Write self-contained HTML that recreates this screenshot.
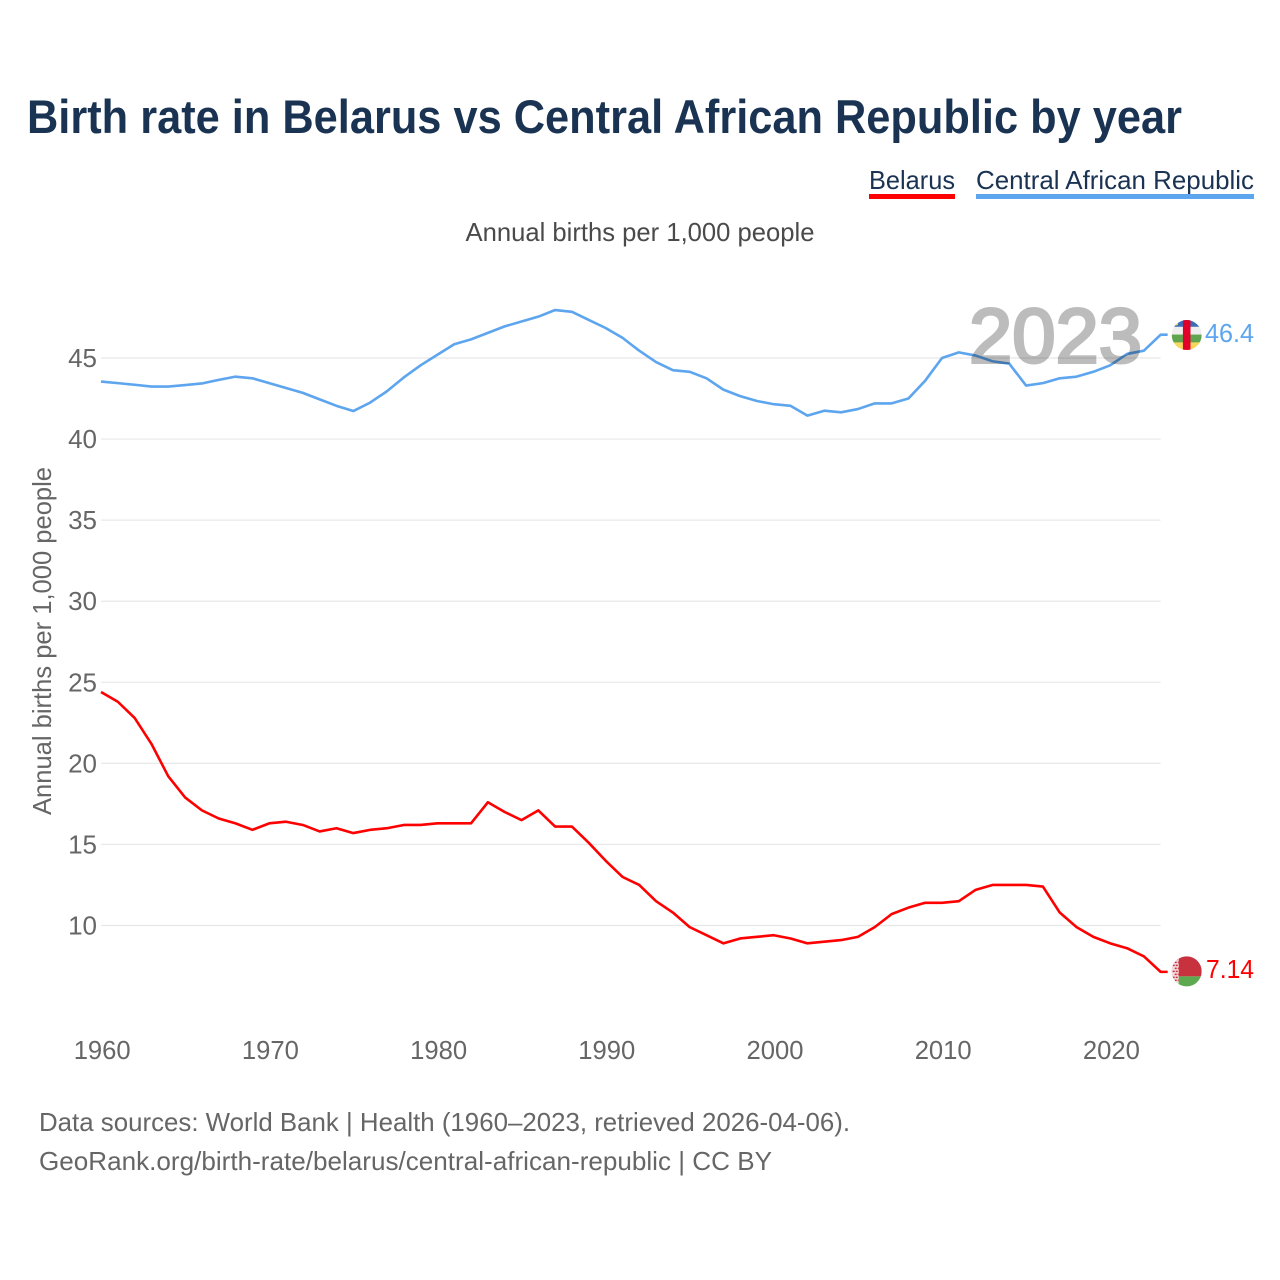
<!DOCTYPE html>
<html lang="en">
<head>
<meta charset="utf-8">
<title>Birth rate in Belarus vs Central African Republic by year</title>
<style>
html,body{margin:0;padding:0;background:#fff;}
svg{display:block;}
text{font-family:"Liberation Sans",sans-serif;}
</style>
</head>
<body>
<svg id="chart" width="1280" height="1280" viewBox="0 0 1280 1280" xmlns="http://www.w3.org/2000/svg">
  <defs>
    <clipPath id="flag-clip"><circle cx="0" cy="0" r="15"></circle></clipPath>
  </defs>
  <rect x="0" y="0" width="1280" height="1280" fill="#ffffff"></rect>
  <text x="27" y="133" font-size="47" font-weight="700" fill="#1a3353" textLength="1155" lengthAdjust="spacingAndGlyphs">Birth rate in Belarus vs Central African Republic by year</text>

  <g>
    <text x="869" y="189" font-size="26" fill="#1a3353" textLength="86" lengthAdjust="spacingAndGlyphs">Belarus</text>
    <rect x="869" y="194" width="86" height="5" fill="#ff0000"></rect>
  </g>
  <g>
    <text x="976" y="189" font-size="26" fill="#1a3353" textLength="278" lengthAdjust="spacingAndGlyphs">Central African Republic</text>
    <rect x="976" y="194" width="278" height="5" fill="#5da5ee"></rect>
  </g>

  <text x="640" y="241" font-size="26" fill="#4a4a4a" text-anchor="middle" textLength="349" lengthAdjust="spacingAndGlyphs">Annual births per 1,000 people</text>
  <text x="51" y="641" font-size="26" fill="#666666" text-anchor="middle" textLength="348" lengthAdjust="spacingAndGlyphs" transform="rotate(-90 51 641)">Annual births per 1,000 people</text>

  <g id="grid"></g>
  <g id="y-ticks"></g>
  <g id="x-ticks"></g>
  <g id="series"></g>

  <g id="flag-caf">
    <g clip-path="url(#flag-clip)">
      <rect x="-15" y="-16" width="30" height="8" fill="#3a6db5"></rect>
      <rect x="-15" y="-8.3" width="30" height="8" fill="#eeeeee"></rect>
      <rect x="-15" y="-0.5" width="30" height="8" fill="#5fa54f"></rect>
      <rect x="-15" y="7.3" width="30" height="9" fill="#f7d85c"></rect>
      <rect x="-3.8" y="-16" width="7.6" height="32" fill="#e0002a"></rect>
      <circle cx="-10" cy="-11" r="1.3" fill="#f7d85c"></circle>
    </g>
  </g>
  <g id="flag-blr">
    <g clip-path="url(#flag-clip)">
      <rect x="-15" y="-16" width="30" height="21" fill="#c8313e"></rect>
      <rect x="-15" y="5" width="30" height="11" fill="#5ea84f"></rect>
      <rect x="-15" y="-16" width="7" height="32" fill="#f3dede"></rect>
      <path d="M-14 -12h5M-12 -9h4M-14 -6h5M-12 -3h4M-14 0h5M-12 3h4M-14 6h5M-12 9h4" stroke="#c8313e" stroke-width="1.4" stroke-dasharray="2 1" fill="none"></path>
    </g>
  </g>

  <text id="label-caf" x="1254" font-size="26" fill="#5da5ee" text-anchor="end" textLength="49" lengthAdjust="spacingAndGlyphs"></text>
  <text id="label-blr" x="1254" font-size="26" fill="#ff0000" text-anchor="end" textLength="48" lengthAdjust="spacingAndGlyphs"></text>

  <text x="969" y="362.5" font-size="77" font-weight="400" fill="#000000" stroke="#000000" stroke-width="3" opacity="0.26" textLength="173" lengthAdjust="spacingAndGlyphs">2023</text>

  <text x="39" y="1131" font-size="26" fill="#666666" textLength="811" lengthAdjust="spacingAndGlyphs">Data sources: World Bank | Health (1960–2023, retrieved 2026-04-06).</text>
  <text x="39" y="1170" font-size="26" fill="#666666" textLength="733" lengthAdjust="spacingAndGlyphs">GeoRank.org/birth-rate/belarus/central-african-republic | CC BY</text>
</svg>

<script>
var years = [1960,1961,1962,1963,1964,1965,1966,1967,1968,1969,1970,1971,1972,1973,1974,1975,1976,1977,1978,1979,1980,1981,1982,1983,1984,1985,1986,1987,1988,1989,1990,1991,1992,1993,1994,1995,1996,1997,1998,1999,2000,2001,2002,2003,2004,2005,2006,2007,2008,2009,2010,2011,2012,2013,2014,2015,2016,2017,2018,2019,2020,2021,2022,2023];
var belarusValues = [24.4,23.8,22.8,21.2,19.2,17.9,17.1,16.6,16.3,15.9,16.3,16.4,16.2,15.8,16.0,15.7,15.9,16.0,16.2,16.2,16.3,16.3,16.3,17.6,17.0,16.5,17.1,16.1,16.1,15.1,14.0,13.0,12.5,11.5,10.8,9.9,9.4,8.9,9.2,9.3,9.4,9.2,8.9,9.0,9.1,9.3,9.9,10.7,11.1,11.4,11.4,11.5,12.2,12.5,12.5,12.5,12.4,10.8,9.9,9.3,8.9,8.6,8.1,7.14];
var carValues = [43.55,43.45,43.35,43.24,43.24,43.33,43.43,43.65,43.85,43.75,43.45,43.15,42.85,42.45,42.05,41.73,42.25,42.95,43.8,44.55,45.2,45.85,46.15,46.55,46.95,47.25,47.55,47.96,47.85,47.35,46.85,46.25,45.45,44.75,44.25,44.15,43.75,43.05,42.65,42.35,42.15,42.05,41.45,41.75,41.65,41.85,42.2,42.2,42.5,43.6,45.0,45.35,45.15,44.8,44.65,43.3,43.45,43.75,43.85,44.15,44.55,45.25,45.45,46.44];
var yTickValues = [10,15,20,25,30,35,40,45];
var xTickValues = [1960,1970,1980,1990,2000,2010,2020];
var belarusEndLabel = "7.14";
var carEndLabel = "46.4";

var NS = 'http://www.w3.org/2000/svg';
function xScale(year){ return 101 + (year - 1960) * 16.82; }
function yScale(v){ return 925.5 - (v - 10) * 16.214; }

var grid = document.getElementById('grid');
var yTicks = document.getElementById('y-ticks');
yTickValues.forEach(function(v){
  var line = document.createElementNS(NS,'line');
  
  
  line.setAttribute('x1', xScale(1960));
  line.setAttribute('x2', xScale(2023));
  line.setAttribute('y1', yScale(v));
  line.setAttribute('y2', yScale(v));
  line.setAttribute('stroke', '#e8e8e8');
  line.setAttribute('stroke-width', '1.2');
  grid.appendChild(line);
  var t = document.createElementNS(NS,'text');
  
  
  t.setAttribute('x', 97);
  t.setAttribute('y', yScale(v) + 9);
  t.setAttribute('font-size', '26');
  t.setAttribute('fill', '#666666');
  t.setAttribute('text-anchor', 'end');
  t.textContent = v;
  yTicks.appendChild(t);
});

var xTicks = document.getElementById('x-ticks');
xTickValues.forEach(function(y){
  var t = document.createElementNS(NS,'text');
  
  
  t.setAttribute('x', xScale(y) + 1.2);
  t.setAttribute('y', 1059);
  t.setAttribute('font-size', '26');
  t.setAttribute('fill', '#666666');
  t.setAttribute('text-anchor', 'middle');
  t.setAttribute('textLength', '57');
  t.setAttribute('lengthAdjust', 'spacingAndGlyphs');
  t.textContent = y;
  xTicks.appendChild(t);
});

function buildPoints(values){
  var pts = values.map(function(v,i){
    return xScale(years[i]).toFixed(2) + ',' + yScale(v).toFixed(2);
  });
  var last = values[values.length - 1];
  pts.push((xScale(years[years.length - 1]) + 7).toFixed(2) + ',' + yScale(last).toFixed(2));
  return pts.join(' ');
}

var seriesGroup = document.getElementById('series');
var carLine = document.createElementNS(NS,'polyline');


carLine.setAttribute('points', buildPoints(carValues));
carLine.setAttribute('fill', 'none');
carLine.setAttribute('stroke', '#5da5ee');
carLine.setAttribute('stroke-width', '2.6');
carLine.setAttribute('stroke-linejoin', 'round');
seriesGroup.appendChild(carLine);

var blrLine = document.createElementNS(NS,'polyline');


blrLine.setAttribute('points', buildPoints(belarusValues));
blrLine.setAttribute('fill', 'none');
blrLine.setAttribute('stroke', '#ff0000');
blrLine.setAttribute('stroke-width', '2.6');
blrLine.setAttribute('stroke-linejoin', 'round');
seriesGroup.appendChild(blrLine);

var carEndY = yScale(carValues[carValues.length - 1]);
var blrEndY = yScale(belarusValues[belarusValues.length - 1]);
document.getElementById('flag-caf').setAttribute('transform', 'translate(1186.7 ' + (carEndY + 0.4).toFixed(2) + ')');
document.getElementById('flag-blr').setAttribute('transform', 'translate(1186.7 ' + (blrEndY - 0.5).toFixed(2) + ')');
var labelCaf = document.getElementById('label-caf');
labelCaf.setAttribute('y', (carEndY + 7.5).toFixed(2));
labelCaf.textContent = carEndLabel;
var labelBlr = document.getElementById('label-blr');
labelBlr.setAttribute('y', (blrEndY + 6).toFixed(2));
labelBlr.textContent = belarusEndLabel;
</script>
</body>
</html>
